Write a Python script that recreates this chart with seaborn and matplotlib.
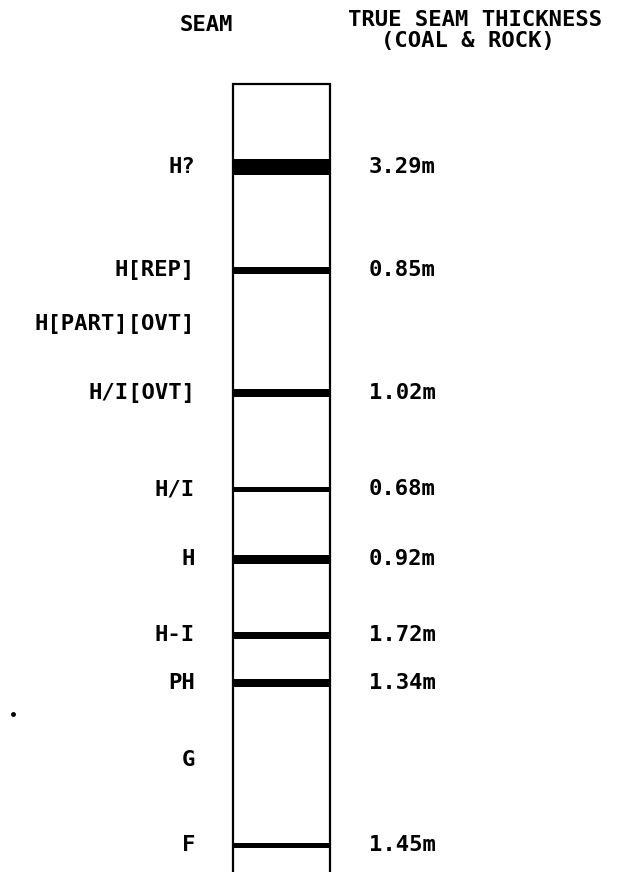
import matplotlib.pyplot as plt
import seaborn as sns
sns.set_style("white")
plt.rcParams['font.family'] = ['DejaVu Sans Mono', 'DejaVu Sans']

# seam log, depth in chart units (top of column = 84)
seams = ['H?', 'H[REP]', 'H[PART][OVT]', 'H/I[OVT]', 'H/I', 'H', 'H-I', 'PH', 'G', 'F']
depth = [167, 270, 324, 393, 489, 559, 635, 683, 760, 845]
thickness = ['3.29m', '0.85m', '', '1.02m', '0.68m', '0.92m', '1.72m', '1.34m', '', '1.45m']
band_px = [16, 7, 0, 8, 5, 9, 7, 8, 0, 5]

W, H = 623, 872
fig = plt.figure(figsize=(W / 100, H / 100), dpi=100)
ax = fig.add_axes([0, 0, 1, 1])
ax.set_xlim(0, W)
ax.set_ylim(H, 0)
ax.axis('off')

col_l, col_r, col_top = 233, 330, 84
ax.plot([col_l, col_l, col_r, col_r], [H + 5, col_top, col_top, H + 5], color='black', lw=1.6, solid_joinstyle='miter')

font = dict(fontsize=16, fontweight='bold', color='black')
for name, d, t, b in zip(seams, depth, thickness, band_px):
    if b:
        ax.hlines(d, col_l, col_r, color='black', lw=b * 0.72)
    ax.text(195, d, name, ha='right', va='center', **font)
    if t:
        ax.text(369, d, t, ha='left', va='center', **font)

ax.text(206, 25, 'SEAM', ha='center', va='center', **font)
ax.text(475, 20, 'TRUE SEAM THICKNESS', ha='center', va='center', **font)
ax.text(468, 41, '(COAL & ROCK)', ha='center', va='center', **font)
ax.plot([13], [714], marker='o', ms=2.5, color='black')

fig.savefig('out.png', dpi=100)
